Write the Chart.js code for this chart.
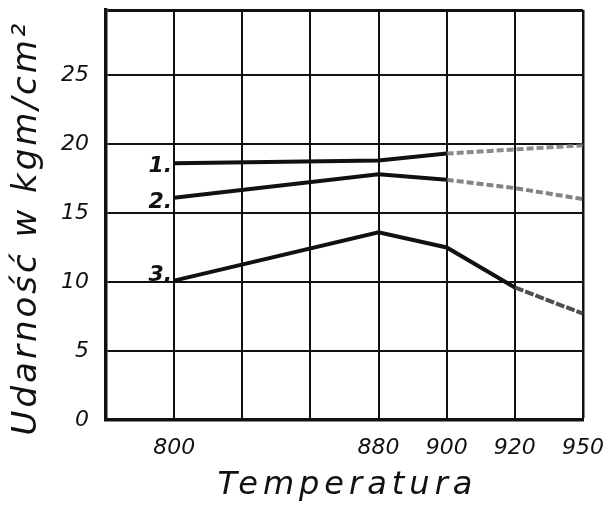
<!DOCTYPE html>
<html>
<head>
<meta charset="utf-8">
<script src="https://cdn.jsdelivr.net/npm/chart.js@4/dist/chart.umd.min.js"></script>
<style>
html,body{margin:0;padding:0;background:#fff;}
#wrap{width:603px;height:513px;}
</style>
</head>
<body>
<div id="wrap"><canvas id="c" width="603" height="513"></canvas></div>
<script>
// Temperature positions (grid columns); blank = grid line without label
const categories = ['', '800', '', '', '880', '900', '920', '950'];
// Impact strength (kgm/cm²)
const series1 = [null, 18.6, null, null, 18.8, 19.3, 19.6, 19.9];
const series2 = [null, 16.1, null, null, 17.8, 17.4, 16.8, 16.0];
const series3 = [null, 10.1, null, null, 13.6, 12.5, 9.6, 7.7];
const seriesLabels = ['1.', '2.', '3.'];
const yTicks = [0, 5, 10, 15, 20, 25];
const yMax = 29.7;
const xTitle = 'Temperatura';
const yTitle = 'Udarność w kgm/cm²';

const FONT = '"DejaVu Sans", sans-serif';

function fadedFrom(startIdx, color, dash) {
  return {
    borderColor: ctx => ctx.p0DataIndex >= startIdx ? color : undefined,
    borderDash: ctx => ctx.p0DataIndex >= startIdx ? dash : undefined
  };
}

const labelPlugin = {
  id: 'labels',
  afterDatasetsDraw(chart) {
    const ctx = chart.ctx;
    const xs = chart.scales.x, ys = chart.scales.y;
    const offs = [9, 10, 0];
    ctx.save();
    ctx.fillStyle = '#111';
    ctx.font = 'italic bold 22px ' + FONT;
    ctx.textAlign = 'right';
    ctx.textBaseline = 'alphabetic';
    chart.data.datasets.forEach((ds, i) => {
      const x = xs.getPixelForValue(1) - 2;
      const y = ys.getPixelForValue(ds.data[1]) + offs[i];
      ctx.fillText(seriesLabels[i], x, y);
    });
    ctx.restore();
  },
  afterDraw(chart) {
    const ctx = chart.ctx;
    const a = chart.chartArea;
    ctx.save();
    ctx.fillStyle = '#111';
    ctx.textAlign = 'center';
    ctx.textBaseline = 'middle';
    ctx.font = 'italic 32px ' + FONT;
    ctx.letterSpacing = '5px';
    ctx.fillText(xTitle, (a.left + a.right) / 2 + 3, 486);
    ctx.translate(27, 228);
    ctx.rotate(-Math.PI / 2);
    ctx.font = 'italic 34px ' + FONT;
    ctx.letterSpacing = '3px';
    ctx.fillText(yTitle, 0, 0);
    ctx.restore();
  }
};

new Chart(document.getElementById('c'), {
  type: 'line',
  data: {
    labels: categories,
    datasets: [
      { label: seriesLabels[0], data: series1, borderColor: '#111', borderWidth: 4, pointRadius: 0, spanGaps: true, tension: 0,
        segment: fadedFrom(5, 'rgba(110,110,110,0.8)', [7, 3]) },
      { label: seriesLabels[1], data: series2, borderColor: '#111', borderWidth: 4, pointRadius: 0, spanGaps: true, tension: 0,
        segment: fadedFrom(5, 'rgba(100,100,100,0.8)', [7, 3]) },
      { label: seriesLabels[2], data: series3, borderColor: '#111', borderWidth: 4, pointRadius: 0, spanGaps: true, tension: 0,
        segment: fadedFrom(6, 'rgba(60,60,60,0.9)', [9, 2]) }
    ]
  },
  options: {
    responsive: false,
    animation: false,
    layout: { padding: { left: 0, right: 20, top: 10, bottom: 0 } },
    plugins: { legend: { display: false }, tooltip: { enabled: false } },
    scales: {
      x: {
        type: 'category',
        offset: false,
        afterFit: s => { s.height = 93; s.paddingLeft = 0; s.paddingRight = 0; },
        grid: {
          color: '#111',
          lineWidth: c => (c.index === 7 ? 2.5 : 2),
          drawTicks: false
        },
        border: { color: '#111', width: 3.5 },
        ticks: {
          color: '#111',
          font: { family: FONT, size: 22, style: 'italic' },
          padding: 15,
          autoSkip: false,
          maxRotation: 0
        }
      },
      y: {
        min: 0,
        max: yMax,
        afterFit: s => { s.width = 106; s.paddingTop = 0; s.paddingBottom = 0; },
        afterBuildTicks: s => {
          s.ticks = yTicks.map(v => ({ value: v })).concat([{ value: yMax }]);
        },
        grid: {
          color: '#111',
          lineWidth: c => (c.tick && c.tick.value === yMax ? 3 : 2),
          drawTicks: false
        },
        border: { color: '#111', width: 3.5 },
        ticks: {
          color: '#111',
          font: { family: FONT, size: 22, style: 'italic' },
          padding: 17,
          callback: v => (yTicks.includes(v) ? String(v) : '')
        }
      }
    }
  },
  plugins: [labelPlugin]
});
</script>
</body>
</html>
